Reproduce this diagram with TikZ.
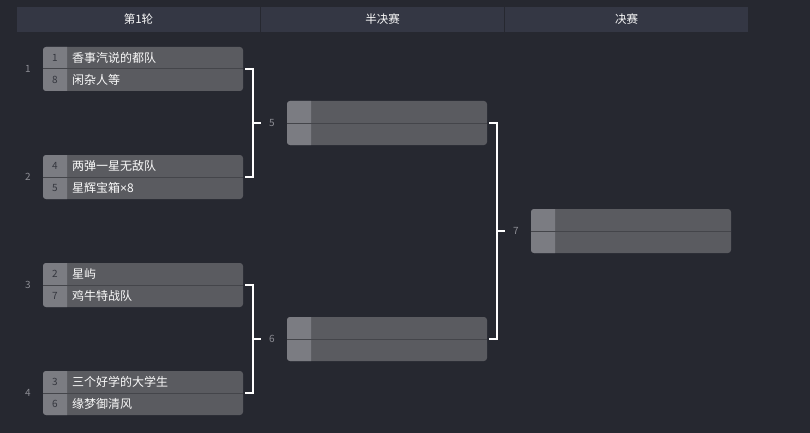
\documentclass[tikz,border=0pt]{standalone}
\usepackage{fontspec}
\setmainfont{Noto Sans CJK SC}
\newfontfamily\latinfont{Liberation Sans}
\definecolor{bgc}{RGB}{38,40,48}
\definecolor{hdr}{RGB}{52,55,68}
\definecolor{boxc}{RGB}{90,91,96}
\definecolor{seedc}{RGB}{123,124,130}
\definecolor{divc}{RGB}{68,69,74}
\definecolor{seedtxt}{RGB}{52,54,62}
\definecolor{teamtxt}{RGB}{250,250,250}
\definecolor{lbltxt}{RGB}{140,141,148}
\tikzset{
  hdrcell/.style={fill=hdr, minimum width=243pt, minimum height=25pt, inner sep=0pt, text=teamtxt, font=\fontsize{11.5}{11.5}\selectfont},
  matchbox/.style={fill=boxc, rounded corners=3pt, minimum width=200pt, minimum height=44pt, inner sep=0pt},
  seedtext/.style={text=seedtxt, font=\fontsize{10}{10}\selectfont, inner sep=0pt},
  teamtext/.style={text=teamtxt, font=\fontsize{12}{12}\selectfont, inner sep=0pt, anchor=west},
  lbl/.style={text=lbltxt, font=\fontsize{10}{10}\selectfont, inner sep=0pt},
  bracket/.style={draw=white, line width=2pt},
}
% #1 name, #2 x left, #3 y top
\newcommand{\mybox}[3]{%
  \node[matchbox] (#1) at (#2+100,#3+22) {};
  \fill[seedc] (#2+24,#3) [rounded corners=3pt] -- (#2,#3) -- (#2,#3+44) [sharp corners] -- (#2+24,#3+44) -- cycle;
  \draw[divc, line width=1pt] (#1.west) -- (#1.east);
}
% #1 name, #2 x, #3 y, #4 seed1, #5 team1, #6 seed2, #7 team2
\newcommand{\myteams}[7]{%
  \node[seedtext] (#1s1) at (#2+12,#3+11) {#4};
  \node[teamtext] (#1t1) at (#2+29,#3+11) {#5};
  \node[seedtext] (#1s2) at (#2+12,#3+33) {#6};
  \node[teamtext] (#1t2) at (#2+29,#3+33) {#7};
}
\begin{document}
\begin{tikzpicture}[x=1pt,y=-1pt]
\fill[bgc] (0,0) rectangle (810,433);
\useasboundingbox (0,0) rectangle (810,433);
% header
\node[hdrcell] (h1) at (138.5,19.5) {第1轮};
\node[hdrcell] (h2) at (382.5,19.5) {半决赛};
\node[hdrcell] (h3) at (626.5,19.5) {决赛};
% round 1
\mybox{m1}{43}{47}
\myteams{m1}{43}{47}{1}{香事汽说的都队}{8}{闲杂人等}
\mybox{m2}{43}{155}
\myteams{m2}{43}{155}{4}{两弹一星无敌队}{5}{星辉宝箱{\latinfont ×}8}
\mybox{m3}{43}{263}
\myteams{m3}{43}{263}{2}{星屿}{7}{鸡牛特战队}
\mybox{m4}{43}{371}
\myteams{m4}{43}{371}{3}{三个好学的大学生}{6}{缘梦御清风}
% semis
\mybox{m5}{287}{101}
\mybox{m6}{287}{317}
% final
\mybox{m7}{531}{209}
% match labels
\node[lbl] (l1) at (28,69) {1};
\node[lbl] (l2) at (28,177) {2};
\node[lbl] (l3) at (28,285) {3};
\node[lbl] (l4) at (28,393) {4};
\node[lbl] (l5) at (272,123) {5};
\node[lbl] (l6) at (272,339) {6};
\node[lbl] (l7) at (516,231) {7};
% brackets
\draw[bracket] ([xshift=2pt]m1.east) -| ([xshift=10pt]m2.east) -- ([xshift=2pt]m2.east);
\draw[bracket] ([xshift=10pt]m1.east |- m5.west) -- ([xshift=18pt]m1.east |- m5.west);
\draw[bracket] ([xshift=2pt]m3.east) -| ([xshift=10pt]m4.east) -- ([xshift=2pt]m4.east);
\draw[bracket] ([xshift=10pt]m3.east |- m6.west) -- ([xshift=18pt]m3.east |- m6.west);
\draw[bracket] ([xshift=2pt]m5.east) -| ([xshift=10pt]m6.east) -- ([xshift=2pt]m6.east);
\draw[bracket] ([xshift=10pt]m5.east |- m7.west) -- ([xshift=18pt]m5.east |- m7.west);
\end{tikzpicture}
\end{document}
